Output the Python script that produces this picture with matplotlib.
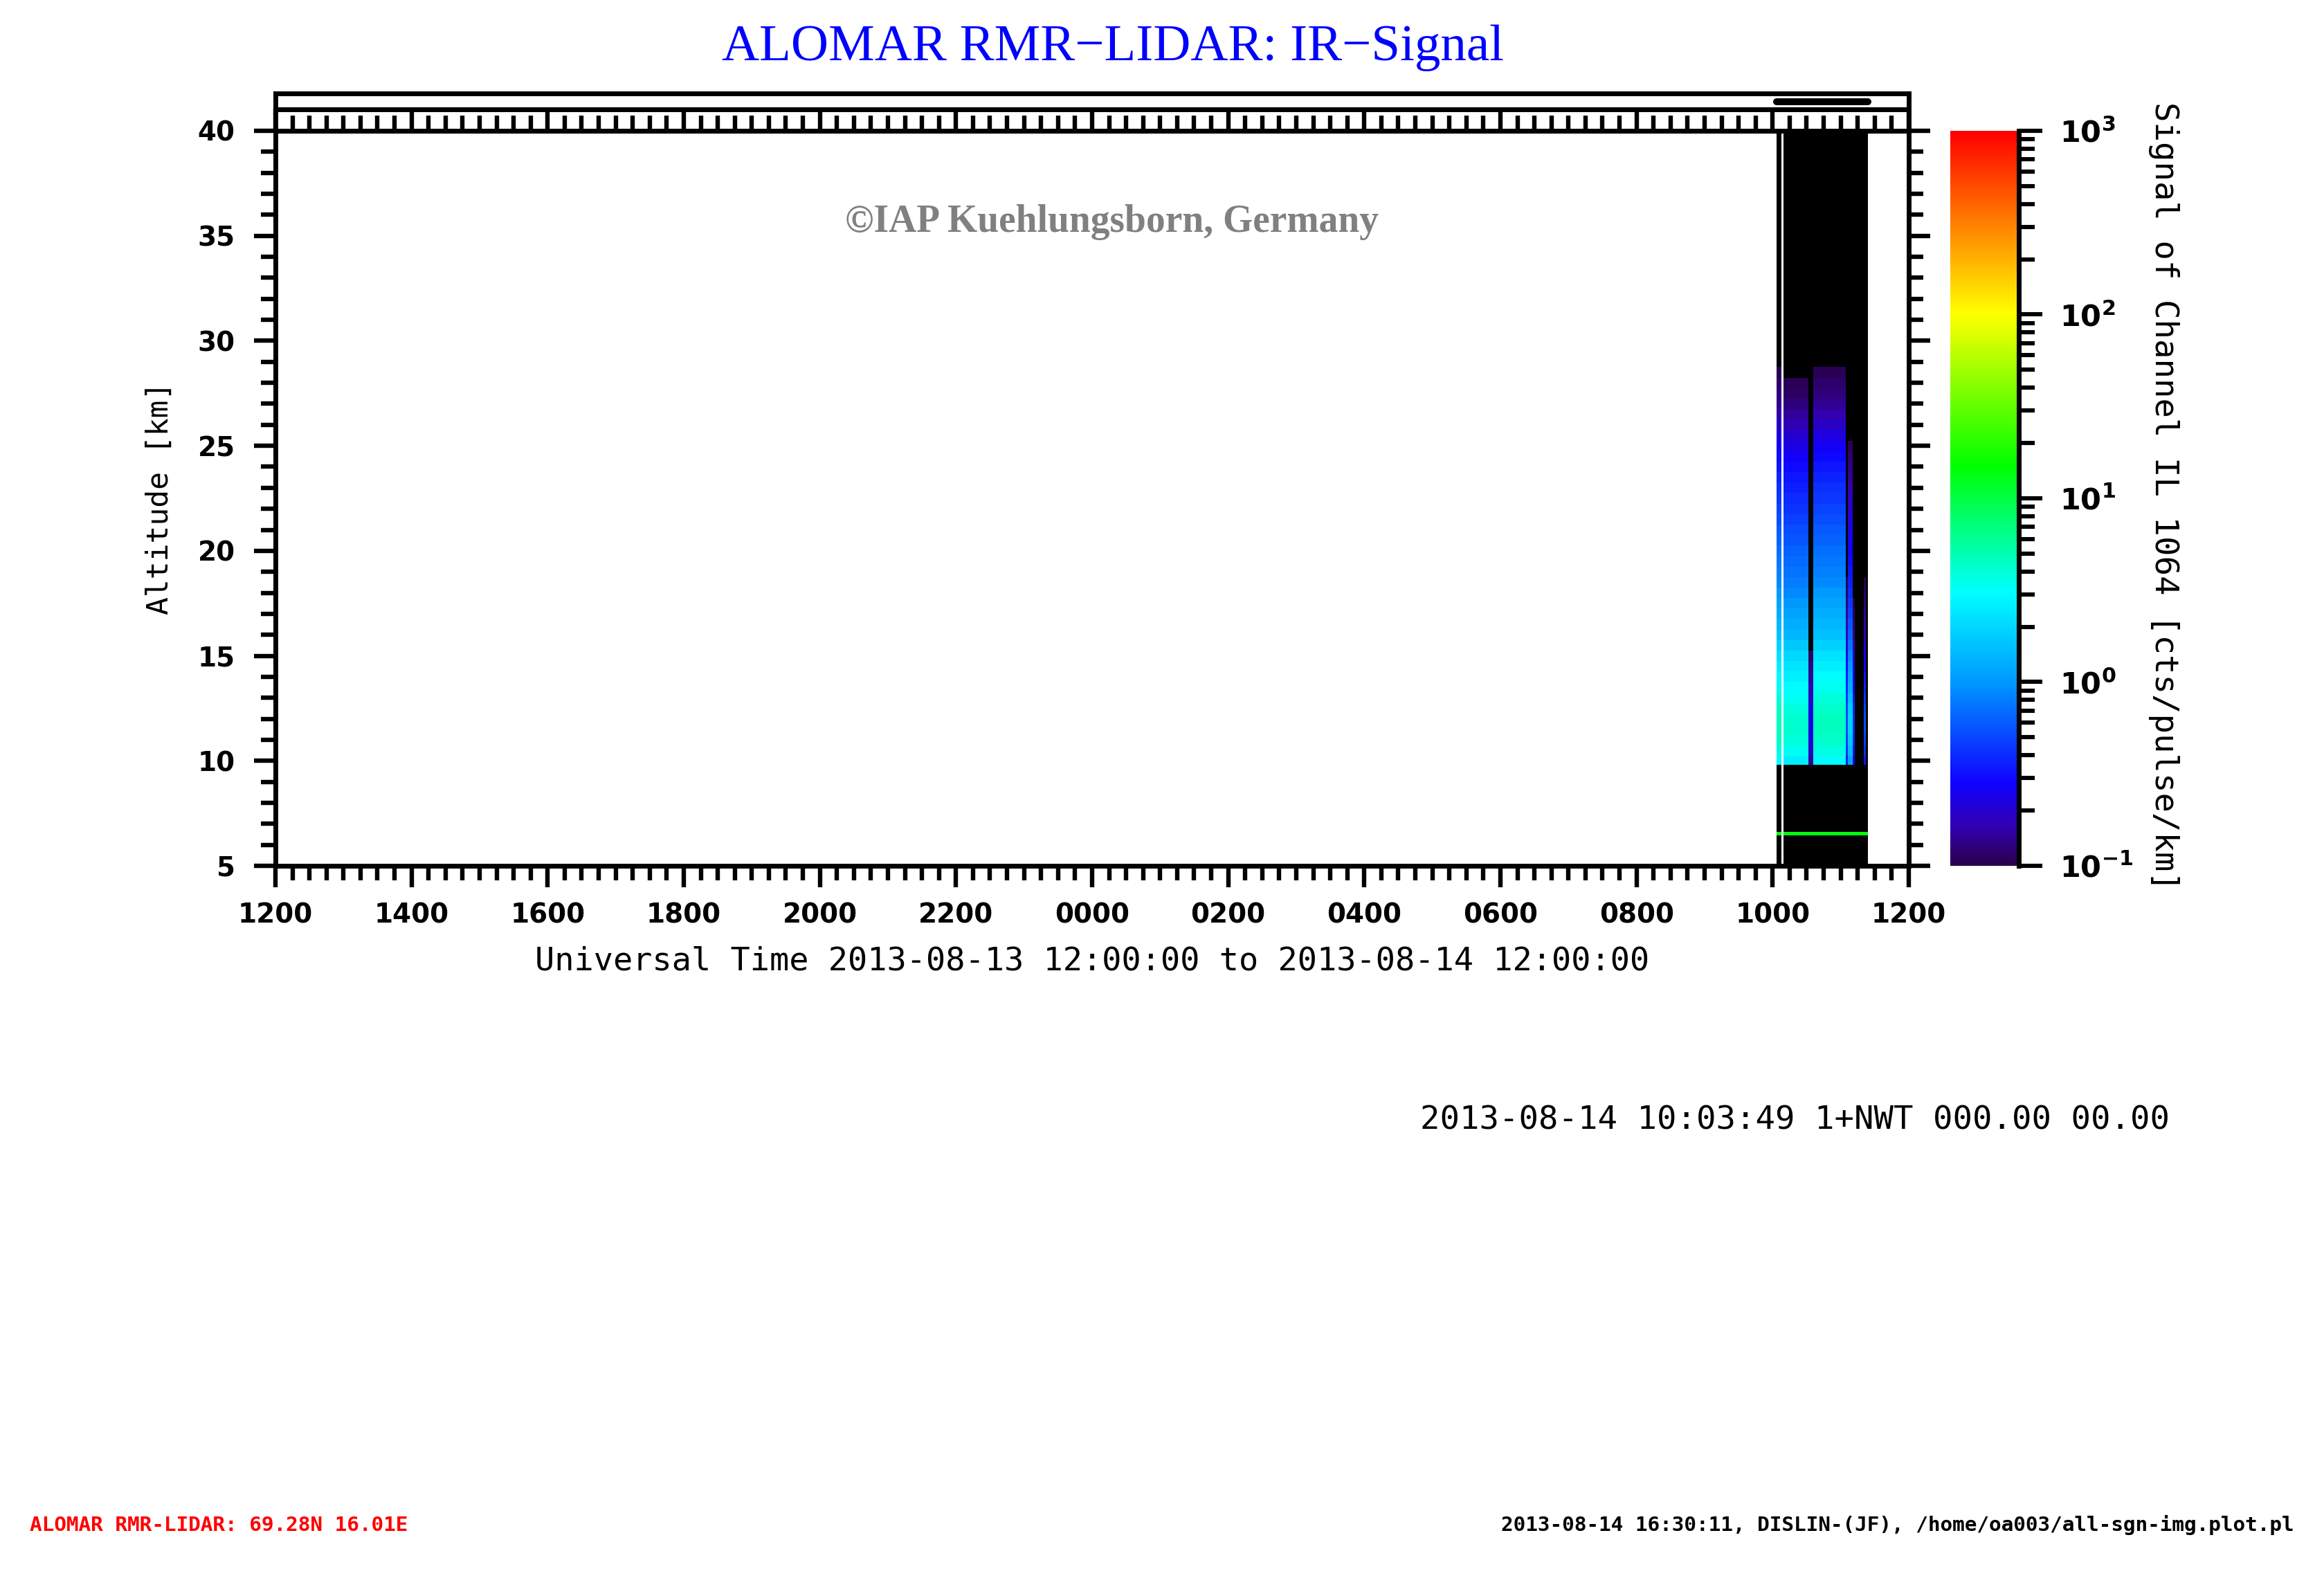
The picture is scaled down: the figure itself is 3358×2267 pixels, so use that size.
import numpy as np
import matplotlib
matplotlib.use('Agg')
from matplotlib import pyplot as plt
from matplotlib.colors import LinearSegmentedColormap, LogNorm
from matplotlib.ticker import MultipleLocator, FixedLocator, LogLocator, NullFormatter

# time axis: hours after 2013-08-13 12:00 UT
hour_ticks = [0, 2, 4, 6, 8, 10, 12, 14, 16, 18, 20, 22, 24]
hour_labels = ['1200', '1400', '1600', '1800', '2000', '2200', '0000',
               '0200', '0400', '0600', '0800', '1000', '1200']

# profile blocks on 2013-08-14 (edges, UT) and their signal level (log10 offset)
block_edges_ut = ['10:03:30', '10:08:00', '10:09:40', '10:31:30', '10:35:40', '11:04:30',
                  '11:06:20', '11:10:40', '11:12:20', '11:20:20', '11:22:00', '11:24:00']
block_gain = [0.05, np.nan, 0.0, -1.25, 0.05, -0.9, -0.35, -1.0, -1.7, -0.9, -1.7]

# measurement period bar in the top strip
meas_start_ut = '10:03:30'
meas_end_ut = '11:24:00'

# mean signal profile, log10(cts/pulse/km), altitude bins of 0.5 km (10.0 ... 30.0 km)
sig_alt = [10.0, 10.5, 11.0, 11.5, 12.0, 12.5, 13.0, 13.5, 14.0, 14.5,
           15.0, 15.5, 16.0, 16.5, 17.0, 17.5, 18.0, 18.5, 19.0, 19.5,
           20.0, 20.5, 21.0, 21.5, 22.0, 22.5, 23.0, 23.5, 24.0, 24.5,
           25.0, 25.5, 26.0, 26.5, 27.0, 27.5, 28.0, 28.5, 29.0, 29.5, 30.0]
sig_log = [0.42, 0.52, 0.58, 0.62, 0.62, 0.59, 0.53, 0.47, 0.42, 0.36,
           0.30, 0.22, 0.15, 0.10, 0.05, 0.00, -0.05, -0.10, -0.13, -0.17,
           -0.20, -0.24, -0.28, -0.32, -0.36, -0.40, -0.44, -0.48, -0.52, -0.57,
           -0.63, -0.70, -0.77, -0.84, -0.90, -0.95, -0.98, -1.02, -1.10, -1.25, -1.45]
sig_bottom = 9.8        # km, lower edge of the usable signal
green_line_alt = [6.45, 6.6]
green_line_val = 14.0
floor_val = 0.01        # below colour scale -> black


def ut_hours(s):
    h, m, sec = [int(v) for v in s.split(':')]
    return 12 + h + m / 60.0 + sec / 3600.0


x_edges = [ut_hours(s) for s in block_edges_ut]
alt_edges = [5.0, green_line_alt[0], green_line_alt[1], sig_bottom] + \
    [a + 0.25 for a in sig_alt] + [40.0]
nrows = len(alt_edges) - 1
Z = np.full((nrows, len(block_gain)), floor_val)
for j, g in enumerate(block_gain):
    if np.isnan(g):
        Z[:, j] = np.nan
        continue
    Z[1, j] = green_line_val
    Z[3:3 + len(sig_log), j] = 10 ** (np.array(sig_log) + g)

cmap = LinearSegmentedColormap.from_list('dislin_rain', [
    (0.00, (0.16, 0.00, 0.30)),
    (0.05, (0.20, 0.00, 0.68)),
    (0.11, (0.06, 0.00, 1.00)),
    (0.25, (0.00, 0.60, 1.00)),
    (0.372, (0.00, 1.00, 1.00)),
    (0.545, (0.00, 1.00, 0.00)),
    (0.752, (1.00, 1.00, 0.00)),
    (0.85, (1.00, 0.60, 0.00)),
    (1.00, (1.00, 0.00, 0.00))])
cmap.set_under('black')
cmap.set_bad((1, 1, 1, 0))

plt.rcParams['mathtext.default'] = 'bf'

fig = plt.figure(figsize=(16.79, 11.335), dpi=200)
ax = fig.add_axes([0.11852, 0.44817, 0.7028, 0.46846])
mesh = ax.pcolormesh(x_edges, alt_edges, Z, cmap=cmap,
                     norm=LogNorm(vmin=0.1, vmax=1000), shading='flat')
ax.set_xlim(0, 24)
ax.set_ylim(5, 40)

ax.xaxis.set_major_locator(FixedLocator(hour_ticks))
ax.set_xticklabels(hour_labels)
ax.xaxis.set_minor_locator(MultipleLocator(0.25))
ax.yaxis.set_major_locator(MultipleLocator(5))
ax.yaxis.set_minor_locator(MultipleLocator(1))
ax.tick_params(which='both', direction='out', width=2.3, top=False,
               left=True, right=True, labelright=False)
ax.tick_params(which='major', length=11)
ax.tick_params(which='minor', length=7.5)
ax.tick_params(axis='x', pad=8)
ax.tick_params(axis='y', pad=10)
for lab in ax.get_xticklabels() + ax.get_yticklabels():
    lab.set_fontsize(14)
    lab.set_fontweight('bold')
for sp in ax.spines.values():
    sp.set_linewidth(2.5)

ax.set_xlabel('Universal Time 2013-08-13 12:00:00 to 2013-08-14 12:00:00',
              family='DejaVu Sans Mono', fontsize=16.9, labelpad=9)
ax.set_ylabel('Altitude [km]', family='DejaVu Sans Mono', fontsize=15.5, labelpad=12)

ax.text(0.512, 0.876, '\u00a9IAP Kuehlungsborn, Germany', transform=ax.transAxes,
        ha='center', va='center', family='Liberation Serif', fontweight='bold',
        fontsize=20, color='#808080')

# top strip with time ticks and measurement bar
sax = fig.add_axes([0.11852, 0.91663, 0.7028, 0.02382])
sax.set_xlim(0, 24)
sax.set_ylim(0, 1)
sax.axhline(0.574, color='k', lw=2.5)
sax.plot([ut_hours(meas_start_ut), ut_hours(meas_end_ut)], [0.778, 0.778],
         color='k', lw=3.6, solid_capstyle='round')
sax.xaxis.set_major_locator(MultipleLocator(2))
sax.xaxis.set_minor_locator(MultipleLocator(0.25))
sax.xaxis.set_major_formatter(NullFormatter())
sax.set_yticks([])
sax.tick_params(axis='x', which='both', direction='in', width=2.3, bottom=True, top=False)
sax.tick_params(axis='x', which='major', length=11.2)
sax.tick_params(axis='x', which='minor', length=7.9)
for sp in sax.spines.values():
    sp.set_linewidth(2.5)

# colour bar
cax = fig.add_axes([0.83919, 0.44817, 0.02948, 0.46846])
cb = fig.colorbar(mesh, cax=cax)
cb.outline.set_visible(False)
cax.plot([1, 1], [0, 1], transform=cax.transAxes, color='k', lw=2.5, clip_on=False)
cb.set_ticks([0.1, 1, 10, 100, 1000])
cb.set_ticklabels([r'$10^{-1}$', r'$10^{0}$', r'$10^{1}$', r'$10^{2}$', r'$10^{3}$'])
cax.yaxis.set_minor_locator(LogLocator(base=10, subs=np.arange(2, 10)))
cax.yaxis.set_minor_formatter(NullFormatter())
cax.tick_params(which='both', direction='out', width=2.2, pad=9, labelsize=15.5)
cax.tick_params(which='major', length=12.2)
cax.tick_params(which='minor', length=8.3)
fig.text(0.9312, 0.6837, 'Signal of Channel IL 1064 [cts/pulse/km]', rotation=-90,
         ha='center', va='center', family='DejaVu Sans Mono', fontsize=17)

# titles and annotations
fig.text(0.4789, 1 - 69 / 2267, 'ALOMAR RMR\u2212LIDAR: IR\u2212Signal', ha='center',
         va='center', family='Liberation Serif', fontsize=27, color='blue')
fig.text(0.611, 0.2858, '2013-08-14 10:03:49 1+NWT 000.00 00.00', ha='left',
         va='center', family='DejaVu Sans Mono', fontsize=17)
fig.text(0.0128, 0.0278, 'ALOMAR RMR-LIDAR: 69.28N 16.01E', ha='left', va='center',
         family='DejaVu Sans Mono', fontweight='bold', fontsize=10.6, color='red')
fig.text(0.9872, 0.0278, '2013-08-14 16:30:11, DISLIN-(JF), /home/oa003/all-sgn-img.plot.pl',
         ha='right', va='center', family='DejaVu Sans Mono', fontweight='bold', fontsize=10.6)

fig.savefig('out.png', dpi=200)
